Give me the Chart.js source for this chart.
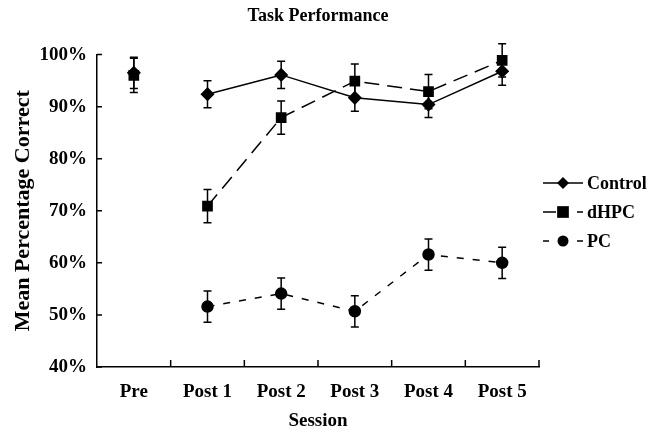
<!DOCTYPE html>
<html><head><meta charset="utf-8">
<script src="https://cdn.jsdelivr.net/npm/chart.js@4"></script>
<style>html,body{margin:0;padding:0;background:#fff}#wrap{width:664px;height:432px;position:relative}</style>
</head><body><div id="wrap"><canvas id="c"></canvas></div>
<script>
const categories = ['Pre', 'Post 1', 'Post 2', 'Post 3', 'Post 4', 'Post 5'];
const controlMean = [96.5, 92.4, 96.1, 91.7, 90.4, 96.8];
const controlErr  = [3.0, 2.6, 2.6, 2.6, 2.5, 2.7];
const dhpcMean    = [96.0, 70.9, 87.9, 94.9, 92.9, 98.9];
const dhpcErr     = [3.3, 3.2, 3.2, 3.3, 3.3, 3.2];
const pcMean      = [null, 51.6, 54.1, 50.7, 61.6, 60.0];
const pcErr       = [null, 3.0, 3.0, 3.0, 3.0, 3.0];
const yTicks      = [40, 50, 60, 70, 80, 90, 100];
const seriesNames = ['Control', 'dHPC', 'PC'];

const FONT = "'Liberation Serif', 'Times New Roman', serif";

const skipFirst = { borderColor: ctx => ctx.p0DataIndex === 0 ? 'rgba(0,0,0,0)' : undefined };

const errorBars = {
  id: 'errorBars',
  beforeDatasetsDraw(chart) {
    const ctx = chart.ctx, ys = chart.scales.y;
    ctx.save();
    ctx.strokeStyle = '#000';
    ctx.lineWidth = 1.5;
    chart.data.datasets.forEach((ds, i) => {
      const meta = chart.getDatasetMeta(i);
      ds.data.forEach((v, j) => {
        if (v === null || ds.errors[j] === null) return;
        const x = meta.data[j].x;
        const yt = ys.getPixelForValue(v + ds.errors[j]);
        const yb = ys.getPixelForValue(v - ds.errors[j]);
        ctx.beginPath();
        ctx.moveTo(x, yt); ctx.lineTo(x, yb);
        ctx.moveTo(x - 4, yt); ctx.lineTo(x + 4, yt);
        ctx.moveTo(x - 4, yb); ctx.lineTo(x + 4, yb);
        ctx.stroke();
      });
    });
    ctx.restore();
  }
};

const innerTicks = {
  id: 'innerTicks',
  afterDraw(chart) {
    const ctx = chart.ctx, a = chart.chartArea, ys = chart.scales.y;
    ctx.save();
    ctx.strokeStyle = '#000';
    ctx.lineWidth = 1.5;
    ctx.beginPath();
    yTicks.forEach(t => {
      const y = ys.getPixelForValue(t);
      ctx.moveTo(a.left, y); ctx.lineTo(a.left + 5, y);
    });
    const n = categories.length;
    for (let i = 1; i <= n; i++) {
      const x = a.left + i * (a.right - a.left) / n;
      ctx.moveTo(x, a.bottom); ctx.lineTo(x, a.bottom - 7);
    }
    ctx.stroke();
    ctx.restore();
  }
};

const sideLegend = {
  id: 'sideLegend',
  afterDraw(chart) {
    const ctx = chart.ctx;
    const rows = [183, 212, 241];
    ctx.save();
    chart.data.datasets.forEach((ds, i) => {
      const y = rows[i];
      ctx.strokeStyle = '#000';
      ctx.lineWidth = 1.5;
      ctx.setLineDash(ds.legendDash || []);
      ctx.beginPath(); ctx.moveTo(543, y); ctx.lineTo(583, y); ctx.stroke();
      ctx.setLineDash([]);
      ctx.fillStyle = '#000';
      const mx = 563, r = ds.pointRadius;
      ctx.beginPath();
      if (ds.pointStyle === 'rectRot') {
        ctx.moveTo(mx, y - r); ctx.lineTo(mx + r, y); ctx.lineTo(mx, y + r); ctx.lineTo(mx - r, y); ctx.closePath();
      } else if (ds.pointStyle === 'rect') {
        const s = r * 0.9;
        ctx.rect(mx - s, y - s, 2 * s, 2 * s);
      } else {
        ctx.arc(mx, y, r, 0, Math.PI * 2);
      }
      ctx.fill();
      ctx.font = 'bold 18px ' + FONT;
      ctx.textBaseline = 'middle';
      ctx.fillText(ds.label, 587, y + 1);
    });
    ctx.restore();
  }
};

new Chart(document.getElementById('c'), {
  type: 'line',
  data: {
    labels: categories,
    datasets: [
      { label: seriesNames[0], data: controlMean, errors: controlErr, borderColor: '#000', backgroundColor: '#000',
        borderWidth: 1.5, pointStyle: 'rectRot', pointRadius: 6, pointHoverRadius: 6, segment: skipFirst },
      { label: seriesNames[1], data: dhpcMean, errors: dhpcErr, borderColor: '#000', backgroundColor: '#000',
        borderWidth: 1.5, borderDash: [15, 8], legendDash: [13, 21], pointStyle: 'rect', pointRadius: 6.5, pointHoverRadius: 6.5, segment: skipFirst },
      { label: seriesNames[2], data: pcMean, errors: pcErr, borderColor: '#000', backgroundColor: '#000',
        borderWidth: 1.5, borderDash: [7, 9], legendDash: [6, 28], pointStyle: 'circle', pointRadius: 5.5, pointHoverRadius: 5.5 }
    ]
  },
  options: {
    responsive: true,
    maintainAspectRatio: false,
    animation: false,
    clip: false,
    layout: { padding: { left: 0, right: 125, top: 0, bottom: 0 } },
    plugins: {
      legend: { display: false },
      tooltip: { enabled: false },
      title: { display: true, fullSize: false, text: 'Task Performance', color: '#000',
        font: { family: FONT, size: 18, weight: 'bold' }, padding: { top: 6, bottom: 27 } }
    },
    scales: {
      x: {
        type: 'category',
        offset: true,
        grid: { display: false, drawTicks: false },
        border: { display: true, color: '#000', width: 1.5 },
        ticks: { color: '#000', font: { family: FONT, size: 19, weight: 'bold' }, padding: 14, maxRotation: 0 },
        title: { display: true, text: 'Session', color: '#000', font: { family: FONT, size: 19, weight: 'bold' }, padding: { top: 8, bottom: 0 } },
        afterFit(s) { s.height = 65; }
      },
      y: {
        min: 40, max: 100,
        afterBuildTicks(s) { s.ticks = yTicks.map(v => ({ value: v })); },
        grid: { display: false, drawTicks: false },
        border: { display: true, color: '#000', width: 1.5 },
        ticks: { color: '#000', font: { family: FONT, size: 19, weight: 'bold' }, padding: 10,
          callback: v => v + '%' },
        title: { display: true, text: 'Mean Percentage Correct', color: '#000', font: { family: FONT, size: 22, weight: 'bold' }, padding: { top: 10, bottom: 4 } },
        afterFit(s) { s.width = 97; }
      }
    }
  },
  plugins: [errorBars, innerTicks, sideLegend]
});
</script>
</body></html>
